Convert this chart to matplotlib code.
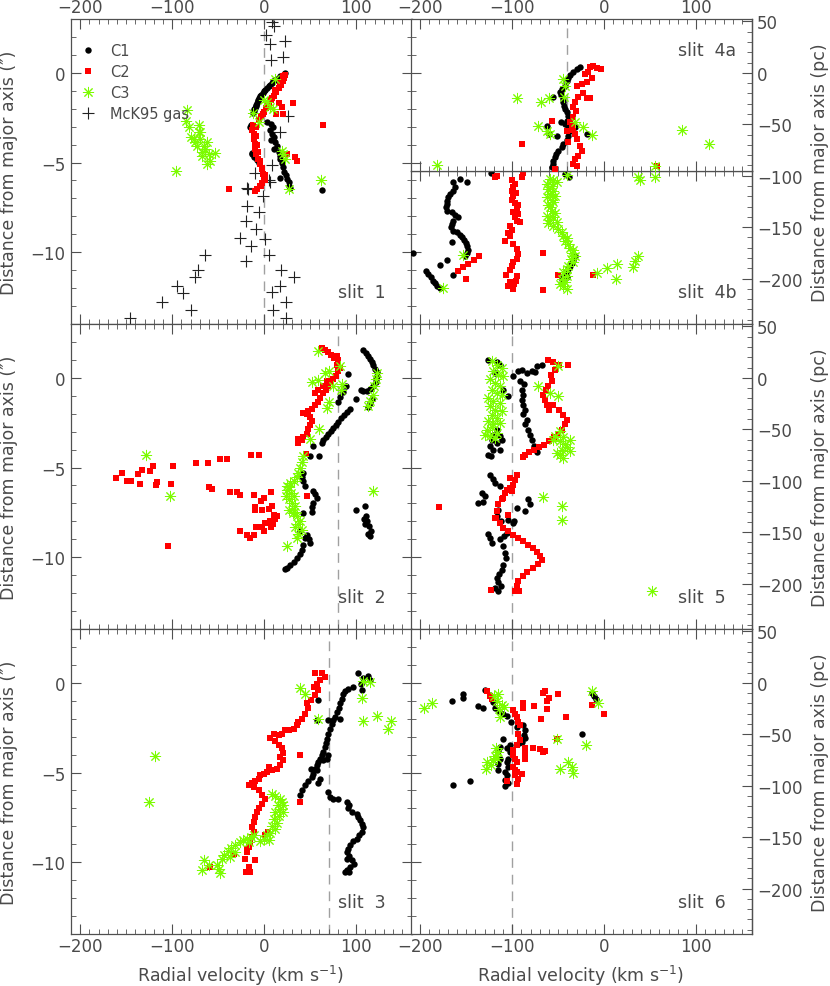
import matplotlib
matplotlib.use('Agg')
import matplotlib.pyplot as plt
from matplotlib.ticker import MultipleLocator, FixedLocator

plt.rcParams['font.family'] = ['DejaVu Sans']
TXT = '#4a4a4a'
EDGE = '#505050'
PC = 17.44  # pc per arcsec

# ---------------- data: slit 1 ----------------
s1_gas_v = [8.3, 10.1, 1.8, 5.8, 22.8, 7.2, 20.2, 25.3, 17.3, 8.3, -9.75, 4.7, -18.1, -1.4, -18.8, -6.1,
            -19.5, -8.7, -26.0, 0.4, -14.4, -63.9, 5.1, -19.5, -72.2, 18.4, -74.8, 31.8, 16.6, -95.3, 8.3,
            -88.8, -111.2, 23.8, -79.5, 9.4, -145.9, 23.1, -18.7, 6.5]
s1_gas_y = [2.83, 2.6, 2.12, 1.62, 1.8, 0.69, 0.91, -2.42, -3.27, -5.11, -5.58, -6.0, -6.5, -6.88, -7.4, -7.77,
            -8.23, -8.7, -9.18, -9.26, -9.63, -10.13, -10.13, -10.5, -10.97, -10.97, -11.39, -11.36, -11.86,
            -11.86, -12.23, -12.29, -12.79, -12.79, -13.2, -13.2, -13.68, -13.68, -6.43, -6.1]
s1_c1_v = [22.8, 21.0, 19.1, 17.0, 15.5, 13.5, 11.9, 10.0, 8.3, 6.5, 4.7, 3.0, 1.1, -0.5, -1.8, -3.0, -4.3,
           -5.5, -6.5, -7.2, -7.9, -8.6, -9.4, -10.1, -10.8, -11.5, -12.3, -15.2, -14.4, -13.4, -11.6, -13.0,
           -9.75, -7.9, -6.1, 2.9, 7.2, 9.4, 5.8, 8.3, 10.1, 7.2, 11.9, 13.7, 10.8, 15.5, 17.3, 16.6, 19.1,
           20.2, 21.7, 23.1, 24.6, 26.4, 27.4, 28.2, 17.3, 62.5]
s1_c1_y = [0.0, -0.08, -0.15, -0.2, -0.26, -0.33, -0.39, -0.47, -0.56, -0.65, -0.74, -0.84, -0.93, -1.02,
           -1.12, -1.21, -1.3, -1.4, -1.49, -1.58, -1.67, -1.77, -1.86, -1.95, -2.04, -2.13, -2.23, -3.03,
           -2.9, -4.5, -4.7, -4.46, -4.65, -4.83, -5.02, -2.75, -2.84, -3.03, -3.16, -3.4, -3.59, -3.77,
           -3.87, -4.09, -4.24, -4.39, -4.61, -4.8, -5.02, -5.26, -5.5, -5.72, -5.91, -6.1, -6.28, -6.43,
           -5.86, -6.52]
s1_c2_v = [22.8, 21.7, 20.2, 18.1, 15.5, 13.0, 10.1, 7.2, 4.7, 2.2, -0.7, -3.6, -6.1, -12.3, -13.0, -11.6,
           -10.8, -10.5, -9.75, -8.7, -7.2, -5.1, -2.9, -1.4, -0.7, -2.5, -5.1, -7.9, -9.75, 20.0, 17.0,
           12.0, 8.0, 3.5, -1.5, -9.0, -8.5, -7.5, -6.5, -4.5, -2.0, 0.5, 1.0, -3.0, 15.5, 19.1, 20.9, 13.0,
           31.0, 64.3, 24.6, 33.6, 35.4, -38.6]
s1_c2_y = [-0.11, -0.3, -0.48, -0.67, -0.86, -1.08, -1.3, -1.54, -1.75, -1.97, -2.19, -2.42, -2.6, -2.9,
           -3.16, -3.4, -3.68, -3.96, -4.24, -4.52, -4.8, -5.07, -5.35, -5.63, -5.91, -6.13, -6.32, -6.47,
           -6.56, -0.2, -0.55, -0.95, -1.4, -1.85, -2.3, -3.0, -3.5, -4.0, -4.4, -4.9, -5.3, -5.7, -6.0,
           -6.3, -1.67, -1.91, -2.29, -2.29, -1.69, -2.88, -4.52, -4.7, -4.93, -6.5]
s1_c3_v = [-83.8, -84.5, -82.0, -70.4, -71.1, -69.3, -76.6, -73.0, -65.7, -62.1, -63.9, -67.5, -60.3, -53.1,
           -58.5, -62.1, -79.5, -74.8, -67.5, -69.3, -95.7, 11.9, -12.6, -6.1, 2.9, 5.8, 9.4, -0.7, 20.9,
           22.8, 19.1, 26.4, 61.4]
s1_c3_y = [-2.06, -2.71, -3.03, -2.88, -3.31, -3.68, -3.68, -4.05, -4.05, -3.87, -4.24, -4.42, -4.52, -4.46,
           -4.89, -5.07, -3.59, -3.87, -4.61, -3.31, -5.48, -0.37, -2.25, -2.75, -1.64, -1.91, -2.0, -1.54,
           -4.52, -4.8, -4.33, -6.47, -5.95]

# ---------------- slit 4a ----------------
s4a_c1_v = [-26.4, -30.1, -33.7, -37.3, -39.1, -40.9, -42.8, -46.4, -48.2, -47.1, -45.3, -44.6, -43.8, -42.8,
            -40.9, -39.1, -40.9, -42.8, -39.1, -37.3, -39.1, -40.9, -44.6, -46.4, -50.0, -52.5, -53.6, -55.4,
            -56.2, -57.2, -47.5, -51.8, -31.9, -18.5, -59.8, -55.4, -62.7]
s4a_c1_y = [0.32, 0.19, 0.04, -0.11, -0.3, -0.48, -0.71, -0.89, -1.08, -1.26, -1.45, -1.64, -1.82, -2.01,
            -2.19, -2.38, -2.66, -2.84, -2.97, -3.22, -3.53, -3.77, -3.96, -4.14, -4.33, -4.52, -4.7, -4.89,
            -5.07, -5.26, -2.75, -3.53, -3.03, -3.4, -3.4, -1.32, -2.99]
s4a_c2_v = [-15.6, -12.7, -8.3, -4.0, -13.8, -19.2, -24.6, -30.1, -22.8, -28.3, -19.2, -15.6, -31.9, -34.4,
            -30.8, -33.7, -37.3, -35.5, -33.7, -40.9, -31.9, -30.1, -39.1, -26.4, -24.6, -28.3, -31.9, -33.7,
            -30.1, -53.3, -57.2, -89.9, 56.9, -21.0, -17.4]
s4a_c2_y = [0.32, 0.41, 0.28, 0.22, -0.3, -0.52, -0.61, -0.74, -1.12, -1.36, -1.39, -1.41, -1.6, -1.91,
            -2.1, -2.47, -2.75, -2.94, -3.16, -3.22, -3.4, -3.68, -3.87, -4.05, -4.33, -4.61, -4.8, -5.07,
            -5.17, -5.35, -2.66, -3.96, -5.17, -0.06, 0.07]
s4a_c3_v = [-44.6, -42.8, -43.8, -94.6, -68.8, -59.8, -71.7, -62.7, -59.1, -31.9, -22.8, -13.8, 84.1, 114.1,
            -182.2, 55.1]
s4a_c3_y = [-0.33, -0.74, -1.36, -1.41, -1.6, -1.41, -2.94, -3.22, -3.4, -2.75, -3.03, -3.49, -3.18, -3.96,
            -5.11, -5.17]

# ---------------- slit 4b ----------------
s4b_c1_v = [-156.9, -148.9, -164.1, -162.3, -164.9, -167.8, -169.6, -171.4, -171.4, -172.1, -170.7, -165.9,
            -162.3, -158.7, -164.1, -165.9, -167.0, -164.1, -160.5, -156.9, -155.1, -152.5, -150.4, -148.9,
            -147.8, -149.6, -151.4, -165.9, -170.7, -178.6, -164.1, -207.6, -193.8, -191.3, -188.8, -186.6,
            -184.1, -181.5, -178.6, -123.6, -42.8, -38.0, -31.9, -33.7, -35.5, -37.3, -39.1, -41.7, -43.8,
            -46.4, -40.2]
s4b_c1_y = [-5.91, -6.1, -6.1, -6.38, -6.57, -6.75, -6.93, -7.12, -7.3, -7.49, -7.68, -7.77, -7.92, -8.05,
            -8.24, -8.42, -8.61, -8.79, -8.88, -9.03, -9.16, -9.29, -9.48, -9.67, -9.85, -10.04, -10.19,
            -9.44, -10.41, -10.69, -11.26, -10.04, -11.02, -11.21, -11.39, -11.58, -11.71, -11.86, -11.97,
            -5.58, -5.63, -5.82, -10.22, -10.41, -10.59, -10.78, -10.93, -11.12, -11.3, -11.49, -11.39]
s4b_c2_v = [-88.0, -89.9, -100.7, -97.1, -98.9, -100.7, -96.0, -98.9, -100.7, -97.1, -93.5, -95.3, -98.9,
            -93.5, -97.1, -95.3, -91.7, -102.5, -100.7, -104.3, -102.5, -108.0, -98.9, -95.3, -93.5, -95.3,
            -98.9, -100.7, -102.5, -106.9, -95.3, -102.5, -98.2, -96.0, -104.3, -98.9, -116.3, -118.8, -66.3,
            -66.3, -135.9, -141.7, -147.8, -153.3, -158.7, -150.4, -50.0, -12.7]
s4b_c2_y = [-5.58, -5.82, -6.0, -6.19, -6.38, -6.56, -6.69, -6.88, -7.06, -7.25, -7.36, -7.55, -7.73, -7.86,
            -8.05, -8.23, -8.33, -8.51, -8.74, -8.92, -9.11, -9.35, -9.54, -9.81, -10.09, -10.37, -10.56,
            -10.78, -10.97, -11.26, -11.34, -11.67, -11.76, -11.58, -11.9, -12.04, -5.76, -5.82, -10.04,
            -12.08, -10.22, -10.41, -10.65, -10.84, -11.02, -11.49, -11.26, -11.26]
s4b_c3_v = [-59.1, -55.4, -62.7, -57.2, -51.8, -60.9, -55.4, -59.1, -53.6, -62.7, -57.2, -55.4, -60.9, -59.1,
            -57.2, -53.6, -62.7, -55.4, -59.1, -60.9, -51.8, -55.4, -50.0, -46.4, -44.6, -40.9, -42.8, -39.1,
            -37.3, -33.7, -35.5, -31.9, -36.6, -33.7, -39.1, -40.9, -44.6, -40.2, -46.4, -42.8, -44.6, -40.9,
            -48.2, -153.3, -175.0, -8.3, 2.5, 14.1, 12.7, 30.8, 33.3, 36.2, 37.0, 38.8, 55.1, -40.9]
s4b_c3_y = [-5.91, -6.0, -6.19, -6.28, -6.1, -6.47, -6.56, -6.75, -6.84, -6.93, -7.06, -7.21, -7.36, -7.49,
            -7.68, -7.81, -7.96, -8.05, -8.18, -8.36, -8.33, -8.51, -8.7, -8.88, -9.07, -9.22, -9.4, -9.55,
            -9.74, -9.85, -10.04, -10.19, -10.37, -10.56, -10.74, -10.93, -11.11, -11.3, -11.49, -11.67,
            -11.86, -12.04, -11.76, -10.15, -12.01, -11.15, -10.89, -10.65, -11.49, -10.84, -10.46, -10.22,
            -5.82, -6.0, -5.82, -5.72]

# ---------------- slit 2 ----------------
s2_c1_v = [107.6, 110.5, 113.0, 114.8, 116.6, 118.5, 120.3, 122.1, 122.8, 121.3, 121.3, 118.5, 114.8, 111.2,
           107.6, 104.7, 99.7, 116.6, 114.8, 113.0, 99.7, 109.4, 110.5, 111.9, 114.1, 115.9, 113.0, 109.4,
           108.3, 114.8, 91.4, 88.8, 85.2, 82.3, 80.5, 93.2, 90.3, 86.7, 83.1, 80.5, 78.0, 75.1, 72.2, 69.7,
           67.1, 64.3, 62.5, 59.9, 52.7, 49.8, 42.6, 40.8, 42.6, 44.4, 53.4, 55.3, 57.1, 53.4, 51.6, 51.6,
           42.6, 46.9, 49.1, 49.8, 44.4, 42.6, 40.8, 38.3, 35.4, 31.8, 28.2, 24.6, 22.8, 39.0]
s2_c1_y = [1.57, 1.39, 1.2, 1.06, 0.87, 0.69, 0.5, 0.31, 0.13, -0.06, -0.24, -0.46, -0.61, -0.74, -0.74,
           -0.69, -1.17, -1.2, -1.43, -1.61, -7.35, -7.17, -7.69, -7.96, -8.24, -8.52, -8.7, -8.15, -7.87,
           -8.8, 0.19, -0.46, -0.8, -1.06, -1.35, -1.76, -1.91, -2.06, -2.24, -2.46, -2.65, -2.8, -2.96,
           -3.13, -3.31, -3.46, -3.65, -4.35, -3.8, -4.35, -5.28, -5.5, -5.74, -6.02, -6.3, -6.48, -6.72,
           -6.98, -7.22, -7.46, -7.54, -8.76, -8.98, -9.2, -8.94, -9.31, -9.57, -9.81, -10.06, -10.28,
           -10.46, -10.61, -10.65, -8.52]
s2_c2_v = [-161.4, -154.2, -149.5, -145.2, -137.2, -135.1, -132.5, -124.6, -121.0, -116.3, -117.4, -101.1,
           -99.3, -104.4, -73.7, -61.4, -60.3, -56.7, -47.7, -40.4, -36.8, -29.6, -26.0, -26.0, -18.8, -15.2,
           -10.8, -14.1, -6.1, -11.6, -9.8, -10.5, -3.6, -0.7, -2.5, -8.7, -0.7, 4.7, 8.3, 7.2, 1.1, 5.8, 9.4,
           11.9, 13.7, 10.8, 7.2, -2.5, 46.2, 62.5, 66.1, 69.7, 72.2, 75.8, 79.5, 80.5, 78.7, 82.3, 80.5,
           78.0, 75.1, 72.6, 69.7, 67.2, 64.3, 60.7, 58.9, 55.3, 51.6, 48.0, 46.2, 42.6, 49.8, 51.6, 49.8,
           48.0, 46.2, 42.6, 40.8, 37.2, 37.2, 45.5, 55.3, 58.9, 63.6, 67.9]
s2_c2_y = [-5.56, -5.33, -5.74, -5.74, -5.37, -5.93, -5.13, -5.19, -4.91, -5.83, -5.96, -5.93, -4.94, -9.35,
           -4.76, -4.76, -6.11, -6.17, -4.54, -4.54, -6.35, -6.35, -6.54, -8.52, -8.76, -8.94, -8.76, -4.31,
           -4.31, -6.54, -7.22, -7.35, -6.85, -6.72, -7.35, -8.33, -8.52, -7.31, -7.17, -6.35, -8.09, -7.96,
           -8.15, -7.87, -7.72, -7.65, -8.33, -8.33, -6.57, 1.67, 1.57, 1.46, 1.3, 1.11, 1.2, 0.98, 0.74,
           0.56, 0.37, 0.13, -0.06, -0.24, -0.43, -0.65, -0.87, -1.11, -1.35, -1.54, -1.72, -1.85, -2.04,
           -1.98, -2.17, -2.41, -2.65, -2.87, -3.15, -3.28, -3.46, -3.43, -3.65, -4.26, -0.83, -0.65, -0.46,
           -0.19]
s2_c3_v = [58.9, 66.1, 51.6, 58.9, 70.8, 82.3, 84.1, 83.1, 75.1, 70.8, 68.6, 60.0, 49.8, 122.8, 121.3, 119.0,
           117.7, 114.8, 113.0, 118.5, 42.6, 40.8, 39.0, 37.2, 35.4, 31.8, 28.2, 26.4, 24.6, 29.0, 32.5, 26.4,
           30.0, 33.6, 26.4, 31.1, 35.4, 39.0, 37.2, 33.6, 40.8, 37.2, 35.4, 31.8, 23.8, 24.6, 24.6, -128.2,
           -102.9]
s2_c3_y = [1.48, 0.28, -0.24, -0.13, 0.37, 0.65, -0.37, -0.65, -0.46, -1.35, -1.67, -2.83, -3.43, 0.28, -0.06,
           -0.46, -0.98, -1.3, -1.57, -6.3, -4.35, -4.69, -5.0, -5.28, -5.5, -5.74, -5.87, -6.06, -6.24, -6.43,
           -6.57, -6.76, -6.98, -7.13, -7.35, -7.54, -7.72, -7.96, -8.15, -8.33, -8.46, -8.7, -8.94, -7.5,
           -6.57, -6.02, -9.35, -4.31, -6.57]

# ---------------- slit 5 ----------------
s5_c1_v = [-126.0, -116.3, -113.4, -118.8, -109.7, -104.3, -117.0, -120.6, -113.4, -122.4, -117.0, -111.6,
           -124.2, -120.6, -113.4, -126.0, -123.5, -98.9, -93.4, -89.8, -84.4, -78.2, -72.8, -68.1, -75.3,
           -91.6, -87.3, -89.8, -88.0, -89.8, -88.0, -86.2, -88.0, -84.4, -85.8, -82.6, -80.7, -78.9, -76.4,
           -73.5, -124.2, -121.3, -118.8, -113.4, -133.3, -129.7, -137.0, -131.5, -115.2, -117.0, -112.6,
           -98.9, -104.3, -106.1, -109.0, -113.4, -124.2, -126.0, -122.4, -109.7, -107.9, -106.8, -109.7,
           -111.6, -114.1, -116.3, -115.2, -112.6, -115.2, -118.8, -82.6, -80.7, -86.2, -94.5, -98.2]
s5_c1_y = [0.98, 0.87, 0.74, 0.28, -0.65, -1.02, -2.88, -3.16, -3.25, -3.44, -3.63, -3.44, -3.81, -4.0, -4.0,
           -4.28, -4.37, 0.13, 0.37, 0.46, 0.28, 0.37, 0.65, 0.74, 0.31, -0.19, -0.37, -0.65, -0.93, -1.21,
           -1.49, -1.77, -2.04, -2.33, -2.6, -2.88, -3.16, -3.44, -3.78, -4.15, -5.4, -5.63, -5.86, -6.04,
           -6.41, -6.6, -6.97, -6.93, -7.34, -7.72, -7.99, -8.09, -7.9, -8.64, -8.83, -8.98, -8.92, -8.68,
           -9.2, -9.39, -9.76, -10.04, -10.41, -10.69, -10.91, -11.15, -11.4, -11.62, -11.9, -11.71, -6.78,
           -7.01, -7.43, -7.25, -7.99]
s5_c2_v = [-60.8, -55.4, -39.1, -48.9, -53.6, -58.3, -57.2, -60.8, -63.4, -66.3, -64.5, -61.9, -59.7, -56.1,
           -48.9, -44.5, -40.9, -42.7, -46.3, -49.9, -54.7, -59.7, -65.5, -70.6, -76.4, -81.5, -86.2, -88.7,
           -95.3, -97.1, -98.9, -102.5, -107.9, -111.6, -115.2, -117.0, -117.7, -113.4, -109.7, -104.3, -98.9,
           -93.4, -88.0, -82.6, -77.1, -73.5, -69.9, -68.1, -71.7, -77.1, -83.7, -88.7, -93.4, -95.3, -97.1,
           -92.4, -123.5, -179.3, -104.3, -118.8, -100.7, -106.1, -109.7, -102.5]
s5_c2_y = [0.98, 0.87, 0.74, 0.69, 0.46, 0.18, -0.19, -0.43, -0.65, -0.93, -1.21, -1.49, -1.77, -1.54, -1.8,
           -2.05, -2.33, -2.6, -2.88, -3.11, -3.29, -3.53, -3.72, -3.85, -4.0, -4.15, -4.28, -4.41, -5.39,
           -5.67, -5.95, -6.13, -6.41, -6.78, -7.06, -7.43, -7.81, -8.09, -8.36, -8.55, -8.74, -8.92, -9.11,
           -9.29, -9.48, -9.72, -9.95, -10.13, -10.35, -10.6, -10.84, -11.06, -11.34, -11.62, -11.9, -11.9,
           -11.84, -7.21, -7.62, -7.84, -6.32, -6.23, -6.69, -5.58]
s5_c3_v = [-122.4, -117.0, -111.6, -120.6, -115.2, -109.7, -124.2, -118.8, -113.4, -122.4, -117.0, -111.6,
           -126.0, -120.6, -113.4, -124.2, -118.8, -111.6, -122.4, -117.0, -126.0, -120.6, -113.4, -127.8,
           -122.4, -117.0, -129.7, -124.2, -118.8, -71.7, -59.0, -50.0, -50.0, -48.2, -53.6, -44.5, -37.3,
           -48.2, -40.9, -46.3, -37.3, -48.2, -44.5, -51.8, -42.7, -55.4, -66.3, -46.3, -46.3, 51.5]
s5_c3_y = [0.93, 0.74, 0.56, 0.37, 0.18, 0.09, -0.09, -0.28, -0.47, -0.65, -0.84, -0.93, -1.12, -1.3, -1.39,
           -1.58, -1.77, -1.86, -2.05, -2.23, -2.42, -2.6, -2.51, -2.88, -2.74, -3.07, -3.16, -3.25, -3.35,
           -0.47, -0.84, -1.02, 0.65, -2.97, -3.25, -3.29, -3.48, -3.53, -3.85, -4.0, -4.09, -4.28, -4.46,
           -4.18, -3.66, -3.44, -6.64, -7.16, -7.9, -11.9]

# ---------------- slit 3 ----------------
s3_c1_v = [102.2, 107.6, 113.0, 114.8, 104.7, 105.8, 96.8, 91.4, 87.8, 86.0, 84.1, 82.3, 81.6, 78.7, 76.9,
           75.1, 73.3, 71.5, 69.7, 68.6, 67.2, 66.1, 64.3, 62.5, 60.7, 58.9, 57.1, 55.3, 53.4, 51.6, 48.0,
           44.4, 40.8, 39.0, 57.1, 64.3, 68.6, 69.7, 60.7, 58.9, 58.9, 57.1, 82.3, 69.7, 50.9, 69.7, 71.5,
           75.1, 80.5, 89.6, 92.5, 91.4, 95.0, 100.4, 102.2, 104.0, 105.8, 106.9, 105.8, 103.3, 100.4, 96.8,
           93.2, 91.4, 89.6, 92.5, 89.6, 95.0, 97.5, 93.2, 89.6, 92.5, 87.8]
s3_c1_y = [0.52, 0.28, 0.39, 0.15, -0.04, -0.41, -0.22, -0.32, -0.45, -0.65, -0.88, -1.15, -1.43, -1.62,
           -1.9, -2.08, -2.29, -2.55, -2.83, -3.11, -3.38, -3.57, -3.85, -4.04, -4.22, -4.41, -4.6, -4.78,
           -5.06, -5.24, -5.49, -5.71, -5.99, -6.23, -4.87, -4.31, -4.22, -4.04, -5.34, -5.61, -0.97, -2.08,
           -1.99, -2.08, -4.78, -6.08, -6.36, -6.45, -6.45, -6.64, -6.82, -6.97, -7.2, -7.29, -7.47, -7.66,
           -7.85, -8.03, -8.31, -8.5, -8.68, -8.83, -9.02, -9.24, -9.43, -9.65, -9.84, -9.89, -10.08, -10.26,
           -10.45, -10.54, -10.54]
s3_c2_v = [55.3, 62.5, 66.1, 60.7, 57.1, 54.2, 58.9, 55.3, 50.6, 46.2, 48.0, 44.4, 40.8, 37.2, 35.4, 31.8,
           26.4, 22.8, 19.1, 15.5, 10.1, 6.5, 11.9, 15.5, 19.1, 20.9, 17.3, 20.9, 17.3, 13.7, 8.3, 4.7, 2.9,
           -0.7, -4.3, -6.1, -9.8, -13.4, -17.0, -11.6, -6.1, -2.5, 1.1, -2.5, -6.1, -7.9, -9.8, -11.6, -13.4,
           -11.6, -13.4, -15.2, -17.0, -18.8, 39.0, 39.0, -20.6, -17.0, -15.2, -19.5, -9.8, -33.2, -58.5, 1.1,
           4.0, -18.8]
s3_c2_y = [0.52, 0.52, 0.33, 0.15, -0.04, -0.22, -0.41, -0.69, -0.97, -1.15, -1.43, -1.71, -1.99, -2.18,
           -2.36, -2.55, -2.64, -2.64, -2.83, -2.92, -2.88, -3.07, -3.25, -3.44, -3.63, -3.89, -4.13, -4.31,
           -4.59, -4.78, -4.87, -4.69, -4.96, -5.06, -5.15, -5.34, -5.48, -5.56, -5.67, -5.8, -5.99, -6.27,
           -6.49, -6.73, -6.95, -7.19, -7.47, -7.75, -8.03, -8.31, -8.59, -8.87, -9.15, -9.42, -4.03, -6.64,
           -9.8, -10.26, -10.54, -10.54, -9.89, -9.52, -10.26, -8.5, -8.31, -9.24]
s3_c3_v = [8.3, 11.9, 16.6, 19.1, 14.4, 17.3, 11.9, 15.5, 10.1, 13.7, 8.3, 11.9, 6.5, 2.9, -0.7, 4.7, -4.3,
           20.9, 20.2, 39.0, 44.4, 58.9, 105.8, 107.6, 114.8, 122.8, 137.2, 134.7, 107.6, -65.0, -67.5, -60.3,
           -49.5, -47.7, -51.3, -45.9, -43.3, -39.7, -36.1, -31.4, -26.7, -23.1, -18.8, -14.4, -10.8, -17.0,
           -31.4, -36.8, -118.8, -125.3]
s3_c3_y = [-6.17, -6.3, -6.45, -6.67, -6.82, -7.05, -7.19, -7.42, -7.6, -7.79, -7.97, -8.16, -8.35, -8.5,
           -8.68, -8.77, -8.83, -6.82, -7.19, -0.28, -0.65, -2.03, -0.87, 0.09, 0.05, -1.85, -2.14, -2.55,
           -2.14, -9.89, -10.45, -10.17, -10.39, -10.58, -10.13, -9.83, -9.57, -9.39, -9.2, -9.05, -8.9,
           -8.77, -8.68, -8.59, -8.5, -8.87, -9.43, -9.7, -4.09, -6.67]

# ---------------- slit 6 ----------------
s6_c1_v = [-165.9, -153.3, -154.0, -137.0, -132.2, -129.7, -124.3, -120.7, -118.8, -114.1, -109.8, -105.4,
           -101.8, -94.6, -88.0, -86.2, -87.3, -86.2, -89.9, -92.4, -109.8, -102.5, -106.2, -102.5, -104.3,
           -106.2, -104.3, -108.0, -106.2, -108.0, -104.3, -108.0, -113.4, -115.2, -113.4, -115.2, -115.2,
           -146.0, -164.9, -24.6, -13.8, -11.2, -9.1]
s6_c1_y = [-1.02, -0.65, -0.84, -1.28, -1.38, -0.41, -0.69, -1.06, -1.43, -1.58, -1.71, -1.84, -2.17, -2.45,
           -2.36, -2.64, -2.92, -3.1, -3.29, -3.38, -3.14, -3.44, -3.66, -3.85, -4.22, -4.44, -4.68, -4.96,
           -5.15, -5.43, -5.56, -5.75, -3.57, -3.81, -4.22, -4.5, -4.87, -5.48, -5.67, -2.83, -0.54, -0.73,
           -0.91]
s6_c2_v = [-127.9, -124.3, -122.5, -98.9, -97.1, -95.3, -93.5, -91.7, -93.5, -91.7, -95.3, -98.9, -97.1,
           -95.3, -98.9, -95.3, -97.1, -93.5, -95.3, -89.9, -105.4, -86.2, -86.2, -86.2, -88.0, -88.8, -76.4,
           -69.2, -66.3, -64.5, -62.7, -59.8, -62.0, -50.0, -41.7, -77.2, -69.9, -64.5, -67.0, -51.1, -13.8,
           -0.4, -98.9, -97.1]
s6_c2_y = [-0.47, -0.73, -0.91, -1.53, -1.71, -1.9, -2.18, -2.36, -2.83, -3.2, -3.48, -4.03, -4.22, -4.41,
           -4.68, -4.96, -5.15, -5.34, -5.62, -5.11, -5.49, -3.63, -3.94, -4.22, -1.1, -1.43, -1.29, -1.99,
           -0.54, -0.47, -1.02, -0.84, -1.47, -0.65, -1.93, -3.63, -3.7, -3.81, -3.88, -3.14, -1.21, -1.75,
           -3.76, -4.87]
s6_c3_v = [-196.0, -187.7, -119.9, -115.2, -116.3, -111.6, -114.1, -109.1, -113.4, -117.8, -115.2, -118.8,
           -121.4, -127.2, -128.6, -123.6, -116.3, -51.8, -19.9, -48.2, -39.1, -33.7, -35.5, -13.8, -6.5]
s6_c3_y = [-1.43, -1.1, -0.73, -0.6, -1.02, -1.21, -1.47, -1.34, -1.9, -3.66, -3.88, -4.07, -4.31, -4.44,
           -4.78, -4.59, -4.18, -3.14, -3.44, -4.82, -4.44, -5.0, -4.68, -0.47, -1.15]

# reference velocities (dashed lines)
ref_v = {'slit 1': 0, 'slit 4a': -40, 'slit 2': 80, 'slit 5': -100, 'slit 3': 70, 'slit 6': -100}
pc_major = [50, 0, -50, -100, -150, -200]

# ---------------- figure ----------------
W, H = 830, 987
fig = plt.figure(figsize=(W / 100, H / 100), dpi=100)

XL0, XR0, PW = 71 / W, 411 / W, 340.5 / W
RH = 0.309
ROWS = [0.6707, 0.3617, 0.0527]
FS = 12

C1 = dict(marker='o', color='black', ms=4.6, mew=0, ls='none', zorder=3)
C2 = dict(marker='s', color='#ff0000', ms=4.4, mew=0, ls='none', zorder=4)
C3 = dict(marker=(8, 2, 0), color='#7cfc00', ms=8, mew=0.7, ls='none', zorder=5)
GAS = dict(marker='+', color='#222222', ms=9, mew=0.8, ls='none', zorder=2)


def style(ax, ylim, top_lab=False, bot_lab=False, left_lab=False, right_col=False):
    ax.set_xlim(-210, 160)
    ax.set_ylim(*ylim)
    ax.xaxis.set_major_locator(MultipleLocator(100))
    ax.xaxis.set_minor_locator(MultipleLocator(10))
    ax.yaxis.set_major_locator(MultipleLocator(5))
    ax.yaxis.set_minor_locator(MultipleLocator(1))
    ax.tick_params(which='both', direction='in', top=True, bottom=True, left=True,
                   right=not right_col, labeltop=top_lab, labelbottom=bot_lab,
                   labelleft=left_lab, labelright=False, color=EDGE, labelcolor=TXT,
                   labelsize=FS)
    ax.tick_params(axis='x', pad=2.5)
    ax.tick_params(axis='y', pad=4)
    ax.tick_params(which='major', length=7, width=0.8)
    ax.tick_params(which='minor', length=3.5, width=0.6)
    for s in ax.spines.values():
        s.set_color(EDGE)
        s.set_linewidth(0.9)
    if right_col:
        lo, hi = ylim[0] * PC, ylim[1] * PC
        sec = ax.secondary_yaxis('right', functions=(lambda a: a * PC, lambda p: p / PC))
        sec.yaxis.set_major_locator(FixedLocator([p for p in pc_major if lo <= p <= hi]))
        sec.yaxis.set_minor_locator(FixedLocator([p for p in range(-240, 60, 10) if lo <= p <= hi]))
        sec.tick_params(which='both', direction='in', color=EDGE, labelcolor=TXT,
                        labelsize=FS, pad=4)
        sec.tick_params(which='major', length=7, width=0.8)
        sec.tick_params(which='minor', length=3.5, width=0.6)
        sec.spines['right'].set_color(EDGE)
        sec.spines['right'].set_linewidth(0.9)


def dash(ax, v):
    ax.axvline(v, color='#a0a0a0', lw=1.0, ls=(0, (7, 5)), zorder=1)


# slit 1
ax1 = fig.add_axes([XL0, ROWS[0], PW, RH])
style(ax1, (-14, 3), top_lab=True, left_lab=True)
dash(ax1, ref_v['slit 1'])
ax1.plot(s1_c1_v, s1_c1_y, label='C1', **C1)
ax1.plot(s1_c2_v, s1_c2_y, label='C2', **C2)
ax1.plot(s1_c3_v, s1_c3_y, label='C3', **C3)
ax1.plot(s1_gas_v, s1_gas_y, label='McK95 gas', **GAS)
ax1.legend(loc='upper left', bbox_to_anchor=(-0.005, 0.955), frameon=False, fontsize=10.5,
           handlelength=1.2, handletextpad=0.9, labelspacing=0.42, borderaxespad=0.3,
           labelcolor=TXT)

# slit 4a / 4b
div = -5.45
fb = (div + 14) / 17
ax4b = fig.add_axes([XR0, ROWS[0], PW, RH * fb])
style(ax4b, (-14, div), right_col=True)
ax4a = fig.add_axes([XR0, ROWS[0] + RH * fb, PW, RH * (1 - fb)])
style(ax4a, (div, 3), top_lab=True, right_col=True)
dash(ax4a, ref_v['slit 4a'])
ax4a.plot(s4a_c1_v, s4a_c1_y, **C1)
ax4a.plot(s4a_c2_v, s4a_c2_y, **C2)
ax4a.plot(s4a_c3_v, s4a_c3_y, **C3)
ax4b.plot(s4b_c1_v, s4b_c1_y, **C1)
ax4b.plot(s4b_c2_v, s4b_c2_y, **C2)
ax4b.plot(s4b_c3_v, s4b_c3_y, **C3)

# slit 2
ax2 = fig.add_axes([XL0, ROWS[1], PW, RH])
style(ax2, (-14, 3), left_lab=True)
dash(ax2, ref_v['slit 2'])
ax2.plot(s2_c1_v, s2_c1_y, **C1)
ax2.plot(s2_c2_v, s2_c2_y, **C2)
ax2.plot(s2_c3_v, s2_c3_y, **C3)

# slit 5
ax5 = fig.add_axes([XR0, ROWS[1], PW, RH])
style(ax5, (-14, 3), right_col=True)
dash(ax5, ref_v['slit 5'])
ax5.plot(s5_c1_v, s5_c1_y, **C1)
ax5.plot(s5_c2_v, s5_c2_y, **C2)
ax5.plot(s5_c3_v, s5_c3_y, **C3)

# slit 3
ax3 = fig.add_axes([XL0, ROWS[2], PW, RH])
style(ax3, (-14, 3), bot_lab=True, left_lab=True)
dash(ax3, ref_v['slit 3'])
ax3.plot(s3_c1_v, s3_c1_y, **C1)
ax3.plot(s3_c2_v, s3_c2_y, **C2)
ax3.plot(s3_c3_v, s3_c3_y, **C3)

# slit 6
ax6 = fig.add_axes([XR0, ROWS[2], PW, RH])
style(ax6, (-14, 3), bot_lab=True, right_col=True)
dash(ax6, ref_v['slit 6'])
ax6.plot(s6_c1_v, s6_c1_y, **C1)
ax6.plot(s6_c2_v, s6_c2_y, **C2)
ax6.plot(s6_c3_v, s6_c3_y, **C3)


def ftext(x, y, s, **kw):
    fig.text(x / W, 1 - y / H, s, color=TXT, **kw)


# slit names
for name, (x, y) in {'slit 1': (338, 293), 'slit 4a': (678, 51), 'slit 4b': (678, 293),
                     'slit 2': (338, 598), 'slit 5': (678, 598), 'slit 3': (338, 903),
                     'slit 6': (678, 903)}.items():
    ftext(x, y, name.replace(' ', '  '), fontsize=12.5, ha='left', va='center')

# axis labels
for yc in (173, 478, 783):
    ftext(9, yc, 'Distance from major axis (″)', fontsize=12.5, rotation=90, ha='center', va='center')
    ftext(820, yc, 'Distance from major axis (pc)', fontsize=12.5, rotation=90, ha='center', va='center')
for xc in (241, 581):
    ftext(xc, 976, 'Radial velocity (km s$^{-1}$)', fontsize=12.5, ha='center', va='center')

fig.savefig('out.png', dpi=100)
